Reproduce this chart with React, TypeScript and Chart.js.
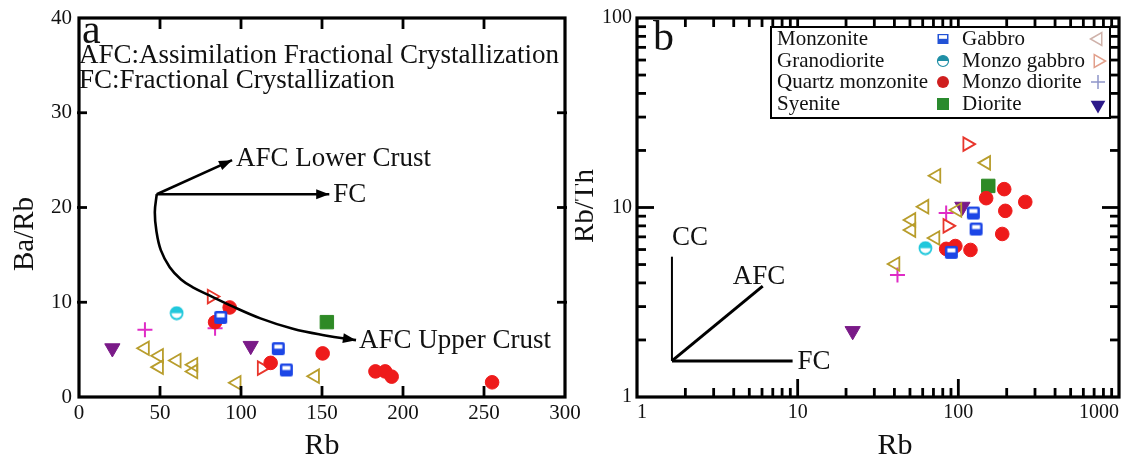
import React, { useEffect, useRef } from "react";
import { Chart, registerables } from "chart.js";

Chart.register(...registerables);

const SERIF = "'Liberation Serif', 'Times New Roman', serif";

// ---------- Panel a : Rb vs Ba/Rb ----------
const aMonzonite = [{ x: 87.5, y: 8.4 }, { x: 123, y: 5.1 }, { x: 128, y: 2.85 }];
const aGranodiorite = [{ x: 60.3, y: 8.85 }];
const aQuartzMonzonite = [
  { x: 84, y: 7.9 }, { x: 93, y: 9.45 }, { x: 118.3, y: 3.6 }, { x: 150.4, y: 4.6 },
  { x: 183, y: 2.7 }, { x: 189, y: 2.7 }, { x: 193, y: 2.15 }, { x: 255, y: 1.55 },
];
const aSyenite = [{ x: 153, y: 7.9 }];
const aGabbro = [
  { x: 40.7, y: 5.15 }, { x: 49.4, y: 4.35 }, { x: 49.4, y: 3.15 }, { x: 60.3, y: 3.85 },
  { x: 70.6, y: 3.4 }, { x: 70.6, y: 2.7 }, { x: 97.3, y: 1.5 }, { x: 145.7, y: 2.2 },
];
const aMonzoGabbro = [{ x: 81.9, y: 10.6 }, { x: 112.8, y: 3.05 }];
const aMonzoDiorite = [{ x: 40.7, y: 7.1 }, { x: 84, y: 7.25 }];
const aDiorite = [{ x: 20.6, y: 5.15 }, { x: 106, y: 5.4 }];

const aUpperCrustPath = [
  { x: 48, y: 21.4 }, { x: 46.8, y: 19.5 }, { x: 47.8, y: 17.5 }, { x: 50.5, y: 15.5 },
  { x: 56, y: 13.7 }, { x: 63, y: 12.4 }, { x: 70, y: 11.6 }, { x: 82, y: 10.6 },
  { x: 93, y: 9.7 }, { x: 112, y: 8.3 }, { x: 132, y: 7.2 }, { x: 152, y: 6.5 }, { x: 171, y: 6.0 },
];
const aLowerCrustPath = [{ x: 48, y: 21.4 }, { x: 94.5, y: 25 }];
const aFCPath = [{ x: 48, y: 21.4 }, { x: 154.5, y: 21.4 }];

const aXTicks = [0, 50, 100, 150, 200, 250, 300];
const aYTicks = [0, 10, 20, 30, 40];

// ---------- Panel b : Rb vs Rb/Th ----------
const bMonzonite = [{ x: 124, y: 9.35 }, { x: 129, y: 7.7 }, { x: 90.5, y: 5.8 }];
const bGranodiorite = [{ x: 62.4, y: 6.1 }];
const bQuartzMonzonite = [
  { x: 193, y: 12.5 }, { x: 149, y: 11.2 }, { x: 261, y: 10.7 }, { x: 196, y: 9.6 },
  { x: 187.6, y: 7.25 }, { x: 84, y: 6.05 }, { x: 95.8, y: 6.26 }, { x: 119, y: 5.97 },
];
const bSyenite = [{ x: 153.6, y: 13.0 }];
const bGabbro = [
  { x: 149, y: 17.2 }, { x: 73, y: 14.7 }, { x: 98.6, y: 9.7 }, { x: 61.5, y: 10.1 },
  { x: 51, y: 8.6 }, { x: 51, y: 7.6 }, { x: 72, y: 6.9 }, { x: 40.6, y: 5.03 },
];
const bMonzoGabbro = [{ x: 113.7, y: 21.6 }, { x: 85.5, y: 8.0 }];
const bMonzoDiorite = [{ x: 84, y: 9.35 }, { x: 41.8, y: 4.4 }];
const bDiorite = [{ x: 106, y: 10.1 }, { x: 22, y: 2.23 }];

const bCCLine = [{ x: 1.65, y: 1.55 }, { x: 1.65, y: 5.5 }];
const bAFCLine = [{ x: 1.65, y: 1.55 }, { x: 6.06, y: 3.85 }];
const bFCLine = [{ x: 1.65, y: 1.55 }, { x: 9.3, y: 1.55 }];

const bXTicks = [1, 10, 100, 1000];
const bYTicks = [1, 10, 100];

const groupNames = [
  "Monzonite", "Granodiorite", "Quartz monzonite", "Syenite",
  "Gabbro", "Monzo gabbro", "Monzo diorite", "Diorite",
];

// ---------- colours ----------
const C = {
  blue: "#1c46e6",
  cyan: "#22c8dc",
  red: "#ee1b1b",
  green: "#2e8a26",
  olive: "#b89d2c",
  redTri: "#e8362c",
  magenta: "#df2cc6",
  purple: "#7a1a88",
};
const L = {
  blue: "#2252d6",
  cyan: "#1f8fa6",
  red: "#cf1f1f",
  green: "#2a8a2e",
  olive: "#cfb2aa",
  redTri: "#e2a08c",
  magenta: "#8e94c8",
  purple: "#2c1a8a",
};

function makeHalfSquare(color: string, s = 15) {
  const c = document.createElement("canvas");
  c.width = s; c.height = s;
  const g = c.getContext("2d")!;
  g.fillStyle = color;
  g.beginPath();
  (g as any).roundRect ? (g as any).roundRect(1, 1, s - 2, s - 2, 2) : g.rect(1, 1, s - 2, s - 2);
  g.fill();
  g.fillStyle = "#fff";
  g.fillRect(3.5, 3.5, s - 7, (s - 7) / 2);
  return c;
}
function makeHalfCircle(color: string, s = 15) {
  const c = document.createElement("canvas");
  c.width = s; c.height = s;
  const g = c.getContext("2d")!;
  const r = s / 2 - 1.5;
  g.fillStyle = "#fff";
  g.beginPath(); g.arc(s / 2, s / 2, r, 0, Math.PI * 2); g.fill();
  g.fillStyle = color;
  g.beginPath(); g.arc(s / 2, s / 2, r, Math.PI, Math.PI * 2); g.closePath(); g.fill();
  g.strokeStyle = color; g.lineWidth = 1.8;
  g.beginPath(); g.arc(s / 2, s / 2, r, 0, Math.PI * 2); g.stroke();
  return c;
}

function pointSets(sets: any[][], markers: any) {
  const defs = [
    { pointStyle: markers.halfSquare, pointRadius: 7, backgroundColor: C.blue, borderColor: C.blue, borderWidth: 0 },
    { pointStyle: markers.halfCircle, pointRadius: 7, backgroundColor: C.cyan, borderColor: C.cyan, borderWidth: 0 },
    { pointStyle: "circle", pointRadius: 6.8, backgroundColor: C.red, borderColor: C.red, borderWidth: 1 },
    { pointStyle: "rect", pointRadius: 9.5, backgroundColor: C.green, borderColor: C.green, borderWidth: 1 },
    { pointStyle: "triangle", rotation: -90, pointRadius: 7.8, backgroundColor: "rgba(0,0,0,0)", borderColor: C.olive, borderWidth: 1.8 },
    { pointStyle: "triangle", rotation: 90, pointRadius: 7.8, backgroundColor: "rgba(0,0,0,0)", borderColor: C.redTri, borderWidth: 1.8 },
    { pointStyle: "cross", pointRadius: 7.5, backgroundColor: C.magenta, borderColor: C.magenta, borderWidth: 2 },
    { pointStyle: "triangle", rotation: 180, pointRadius: 8.8, backgroundColor: C.purple, borderColor: C.purple, borderWidth: 1 },
  ];
  return sets.map((d, i) => ({
    label: groupNames[i],
    data: d,
    showLine: false,
    ...defs[i],
    pointRotation: (defs[i] as any).rotation || 0,
    pointHoverRadius: defs[i].pointRadius,
    order: 1,
  }));
}

function lineSet(data: any[], width: number, tension = 0) {
  return {
    label: "",
    data,
    showLine: true,
    tension,
    pointRadius: 0,
    pointHoverRadius: 0,
    borderColor: "#000",
    borderWidth: width,
    backgroundColor: "#000",
    fill: false,
    order: 0,
  };
}

function arrowHead(ctx: CanvasRenderingContext2D, fx: number, fy: number, tx: number, ty: number, len = 14, half = 0.36) {
  const a = Math.atan2(ty - fy, tx - fx);
  ctx.beginPath();
  ctx.moveTo(tx, ty);
  ctx.lineTo(tx - len * Math.cos(a - half), ty - len * Math.sin(a - half));
  ctx.lineTo(tx - len * Math.cos(a + half), ty - len * Math.sin(a + half));
  ctx.closePath();
  ctx.fill();
}

function seg(ctx: CanvasRenderingContext2D, x1: number, y1: number, x2: number, y2: number) {
  ctx.beginPath(); ctx.moveTo(x1, y1); ctx.lineTo(x2, y2); ctx.stroke();
}

function text(ctx: CanvasRenderingContext2D, s: string, x: number, y: number, size: number, align: CanvasTextAlign = "left", rot = 0) {
  ctx.save();
  ctx.font = `${size}px ${SERIF}`;
  ctx.fillStyle = "#111";
  ctx.textAlign = align;
  ctx.textBaseline = "alphabetic";
  ctx.translate(x, y);
  if (rot) ctx.rotate(rot);
  ctx.fillText(s, 0, 0);
  ctx.restore();
}

function tri(ctx: CanvasRenderingContext2D, x: number, y: number, r: number, rotDeg: number) {
  let a = (rotDeg * Math.PI) / 180;
  ctx.beginPath();
  for (let k = 0; k < 3; k++) {
    const px = x + Math.sin(a) * r, py = y - Math.cos(a) * r;
    k === 0 ? ctx.moveTo(px, py) : ctx.lineTo(px, py);
    a += (2 * Math.PI) / 3;
  }
  ctx.closePath();
}

function legendMarker(ctx: CanvasRenderingContext2D, idx: number, x: number, y: number) {
  ctx.save();
  switch (idx) {
    case 0:
      ctx.fillStyle = L.blue; ctx.fillRect(x - 5.5, y - 5, 11, 10);
      ctx.fillStyle = "#fff"; ctx.fillRect(x - 4, y - 3.8, 8, 3.6);
      break;
    case 1:
      ctx.fillStyle = L.cyan; ctx.beginPath(); ctx.arc(x, y, 5.5, Math.PI, 2 * Math.PI); ctx.closePath(); ctx.fill();
      ctx.strokeStyle = L.cyan; ctx.lineWidth = 1.2; ctx.beginPath(); ctx.arc(x, y, 5.5, 0, 2 * Math.PI); ctx.stroke();
      break;
    case 2:
      ctx.fillStyle = L.red; ctx.beginPath(); ctx.arc(x, y, 6, 0, 2 * Math.PI); ctx.fill();
      break;
    case 3:
      ctx.fillStyle = L.green; ctx.fillRect(x - 6, y - 6, 12, 12);
      break;
    case 4:
      ctx.strokeStyle = L.olive; ctx.lineWidth = 1.5; tri(ctx, x, y, 7.5, -90); ctx.stroke();
      break;
    case 5:
      ctx.strokeStyle = L.redTri; ctx.lineWidth = 1.5; tri(ctx, x, y, 7.5, 90); ctx.stroke();
      break;
    case 6:
      ctx.strokeStyle = L.magenta; ctx.lineWidth = 1.5;
      seg(ctx, x - 7, y, x + 7, y); seg(ctx, x, y - 7, x, y + 7);
      break;
    case 7:
      ctx.fillStyle = L.purple; tri(ctx, x, y + 1, 8.5, 180); ctx.fill();
      break;
  }
  ctx.restore();
}

const decorA = {
  id: "decorA",
  afterDatasetsDraw(chart: any) {
    const { ctx, chartArea: ca, scales } = chart;
    const xs = scales.x, ys = scales.y;
    const px = (p: any) => [xs.getPixelForValue(p.x), ys.getPixelForValue(p.y)];
    ctx.save();
    ctx.strokeStyle = "#000";
    ctx.lineWidth = 3.2;
    ctx.strokeRect(ca.left, ca.top, ca.right - ca.left, ca.bottom - ca.top);
    ctx.lineWidth = 2.8;
    aXTicks.slice(1, -1).forEach((v) => {
      const x = xs.getPixelForValue(v);
      seg(ctx, x, ca.bottom, x, ca.bottom - 11);
      seg(ctx, x, ca.top, x, ca.top + 11);
    });
    aYTicks.slice(1, -1).forEach((v) => {
      const y = ys.getPixelForValue(v);
      seg(ctx, ca.left - 2, y, ca.left + 8, y);
      seg(ctx, ca.right + 2, y, ca.right - 8, y);
    });
    // arrow heads
    ctx.fillStyle = "#000";
    const heads = [aUpperCrustPath, aLowerCrustPath, aFCPath];
    heads.forEach((p) => {
      const [fx, fy] = px(p[p.length - 2]);
      const [tx, ty] = px(p[p.length - 1]);
      arrowHead(ctx, fx, fy, tx, ty);
    });
    // annotations
    const [lx, ly] = px(aLowerCrustPath[1]);
    text(ctx, "AFC Lower Crust", lx + 4, ly + 6, 27);
    const [fcx, fcy] = px(aFCPath[1]);
    text(ctx, "FC", fcx + 4, fcy + 8, 27);
    const [ux, uy] = px(aUpperCrustPath[aUpperCrustPath.length - 1]);
    text(ctx, "AFC Upper Crust", ux + 3, uy + 8, 27);
    text(ctx, "a", ca.left + 3, ca.top + 25, 42);
    text(ctx, "AFC:Assimilation Fractional Crystallization", ca.left, ca.top + 45, 27);
    text(ctx, "FC:Fractional Crystallization", ca.left, ca.top + 70, 27);
    // axis titles
    text(ctx, "Rb", (ca.left + ca.right) / 2, 454, 30, "center");
    text(ctx, "Ba/Rb", 33, 234, 29, "center", -Math.PI / 2);
    ctx.restore();
  },
};

const decorB = {
  id: "decorB",
  afterDatasetsDraw(chart: any) {
    const { ctx, chartArea: ca, scales } = chart;
    const xs = scales.x, ys = scales.y;
    const px = (p: any) => [xs.getPixelForValue(p.x), ys.getPixelForValue(p.y)];
    ctx.save();
    ctx.strokeStyle = "#000";
    ctx.lineWidth = 3.2;
    ctx.strokeRect(ca.left, ca.top, ca.right - ca.left, ca.bottom - ca.top);
    ctx.lineWidth = 2.8;
    // log ticks
    for (let i = 0; i < bXTicks.length - 1; i++) {
      const d = bXTicks[i];
      for (let k = 2; k <= 10; k++) {
        const v = d * k;
        if (v >= bXTicks[bXTicks.length - 1]) continue;
        const x = xs.getPixelForValue(v);
        const len = k === 10 ? 18 : 9;
        seg(ctx, x, ca.bottom, x, ca.bottom - len);
        seg(ctx, x, ca.top, x, ca.top + len);
      }
    }
    for (let i = 0; i < bYTicks.length - 1; i++) {
      const d = bYTicks[i];
      for (let k = 2; k <= 10; k++) {
        const v = d * k;
        if (v >= bYTicks[bYTicks.length - 1]) continue;
        const y = ys.getPixelForValue(v);
        const len = k === 10 ? 17 : 9;
        seg(ctx, ca.left, y, ca.left + len, y);
        seg(ctx, ca.right, y, ca.right - len, y);
      }
    }
    // annotations
    const [ccx, ccy] = px(bCCLine[1]);
    text(ctx, "CC", ccx, ccy - 12, 27);
    const [ax, ay] = px(bAFCLine[1]);
    text(ctx, "AFC", ax - 30, ay - 2, 27);
    const [fx, fy] = px(bFCLine[1]);
    text(ctx, "FC", fx + 5, fy + 8, 27);
    text(ctx, "b", ca.left + 16, ca.top + 32, 42);
    // legend
    const lg = { x: ca.left + 134, y: ca.top + 9, w: 339, h: 91 };
    ctx.fillStyle = "#fff";
    ctx.fillRect(lg.x, lg.y, lg.w, lg.h);
    ctx.lineWidth = 2;
    ctx.strokeStyle = "#000";
    ctx.strokeRect(lg.x, lg.y, lg.w, lg.h);
    const rowsY = [18, 40, 61, 83];
    for (let r = 0; r < 4; r++) {
      const by = lg.y + rowsY[r];
      text(ctx, groupNames[r], lg.x + 6, by, 21);
      legendMarker(ctx, r, lg.x + 172, by - 6);
      text(ctx, groupNames[r + 4], lg.x + 191, by, 21);
      legendMarker(ctx, r + 4, lg.x + 327, by - 6);
    }
    // axis titles
    text(ctx, "Rb", 895 - 575, 454, 30, "center");
    text(ctx, "Rb/Th", 18, 206, 29, "center", -Math.PI / 2);
    ctx.restore();
  },
};

function linearAxis(min: number, max: number, ticks: number[], isX: boolean) {
  return {
    type: "linear",
    min, max,
    afterBuildTicks: (s: any) => { s.ticks = ticks.map((v) => ({ value: v })); },
    afterFit: (s: any) => {
      if (isX) { s.height = 62; s.paddingLeft = 0; s.paddingRight = 0; }
      else { s.width = 79; s.paddingTop = 0; s.paddingBottom = 0; }
    },
    grid: { display: false, drawTicks: false },
    border: { display: false },
    ticks: { color: "#111", font: { family: SERIF, size: 21 }, padding: isX ? 4 : 7, maxRotation: 0, autoSkip: false },
  };
}

function logAxis(min: number, max: number, ticks: number[], isX: boolean) {
  return {
    type: "logarithmic",
    min, max,
    afterBuildTicks: (s: any) => { s.ticks = ticks.map((v) => ({ value: v })); },
    afterFit: (s: any) => {
      if (isX) { s.height = 62; s.paddingLeft = 0; s.paddingRight = 0; }
      else { s.width = 62; s.paddingTop = 0; s.paddingBottom = 0; }
    },
    grid: { display: false, drawTicks: false },
    border: { display: false },
    ticks: {
      color: "#111", font: { family: SERIF, size: 20 }, padding: isX ? 4 : 5, maxRotation: 0, autoSkip: false,
      align: isX ? "inner" : "center",
      callback: (v: any) => String(v),
    },
  };
}

export default function App() {
  const refA = useRef<HTMLCanvasElement>(null);
  const refB = useRef<HTMLCanvasElement>(null);

  useEffect(() => {
    const markers = { halfSquare: makeHalfSquare(C.blue), halfCircle: makeHalfCircle(C.cyan) };
    const common = {
      responsive: false,
      animation: false,
      devicePixelRatio: 1,
      events: [],
      plugins: { legend: { display: false }, tooltip: { enabled: false } },
    };
    const chartA = new Chart(refA.current!, {
      type: "scatter",
      data: {
        datasets: [
          lineSet(aUpperCrustPath, 2.6, 0.4),
          lineSet(aLowerCrustPath, 2.6),
          lineSet(aFCPath, 2.6),
          ...pointSets([aMonzonite, aGranodiorite, aQuartzMonzonite, aSyenite, aGabbro, aMonzoGabbro, aMonzoDiorite, aDiorite], markers),
        ] as any,
      },
      options: {
        ...common,
        layout: { padding: { left: 0, top: 18, right: 35, bottom: 0 } },
        scales: { x: linearAxis(0, 300, aXTicks, true), y: linearAxis(0, 40, aYTicks, false) } as any,
      } as any,
      plugins: [decorA],
    });
    const chartB = new Chart(refB.current!, {
      type: "scatter",
      data: {
        datasets: [
          lineSet(bCCLine, 2),
          lineSet(bAFCLine, 3),
          lineSet(bFCLine, 3),
          ...pointSets([bMonzonite, bGranodiorite, bQuartzMonzonite, bSyenite, bGabbro, bMonzoGabbro, bMonzoDiorite, bDiorite], markers),
        ] as any,
      },
      options: {
        ...common,
        layout: { padding: { left: 0, top: 18, right: 14, bottom: 0 } },
        scales: { x: logAxis(1, 1000, bXTicks, true), y: logAxis(1, 100, bYTicks, false) } as any,
      } as any,
      plugins: [decorB],
    });
    return () => { chartA.destroy(); chartB.destroy(); };
  }, []);

  return (
    <div style={{ position: "fixed", left: 0, top: 0, width: 1133, height: 459, background: "#fff", overflow: "hidden" }}>
      <canvas ref={refA} width={600} height={459} style={{ position: "absolute", left: 0, top: 0, width: 600, height: 459 }} />
      <canvas ref={refB} width={558} height={459} style={{ position: "absolute", left: 575, top: 0, width: 558, height: 459 }} />
    </div>
  );
}
